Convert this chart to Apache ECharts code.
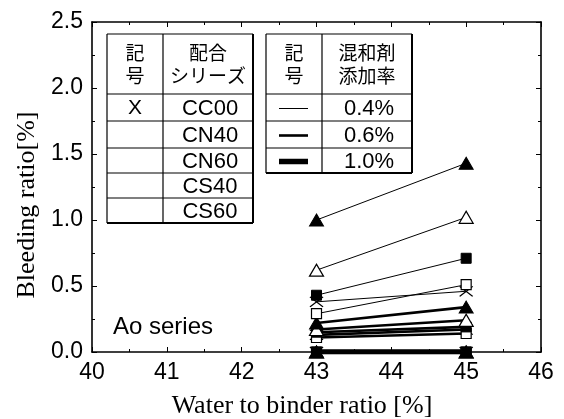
<!DOCTYPE html>
<html>
<head>
<meta charset="utf-8">
<script src="https://cdn.jsdelivr.net/npm/echarts@6/dist/echarts.min.js"></script>
<style>html,body{margin:0;padding:0;background:#fff}#c{width:564px;height:419px}</style>
</head>
<body>
<div id="c"></div>
<script>
// ---- data ----
const xValues = [43, 45];
const mixSeries = ['CC00', 'CN40', 'CN60', 'CS40', 'CS60'];
const rates = ['0.4%', '0.6%', '1.0%'];
// values at w/b 43 and 45, order: CC00, CN40, CN60, CS40, CS60
const rate04 = [[0.38, 0.46], [0.29, 0.51], [0.43, 0.71], [0.62, 1.02], [1.00, 1.43]];
const rate06 = [[0.13, 0.17], [0.11, 0.14], [0.15, 0.19], [0.17, 0.24], [0.22, 0.34]];
const rate10 = [[0.00, 0.00], [0.00, 0.00], [0.00, 0.00], [0.00, 0.00], [0.00, 0.00]];
const xTicks = [40, 41, 42, 43, 44, 45, 46];
const yTicks = ['0.0', '0.5', '1.0', '1.5', '2.0', '2.5'];

// ---- styles ----
const lineWidths = [1, 2.6, 4.5];
const markerDefs = [
  { symbol: 'path://M0,0L10,10M10,0L0,10', size: [13, 10], fill: '#000', border: 1.3 },
  { symbol: 'rect', size: 10, fill: '#fff', border: 1.2 },
  { symbol: 'rect', size: 10, fill: '#000', border: 1 },
  { symbol: 'triangle', size: [14, 12], fill: '#fff', border: 1.2 },
  { symbol: 'triangle', size: [14, 12], fill: '#000', border: 1 }
];

const allRates = [rate04, rate06, rate10];
const series = [];
for (let r = allRates.length - 1; r >= 0; r--) {
  allRates[r].forEach((vals, i) => {
    const m = markerDefs[i];
    series.push({
      name: mixSeries[i] + ' ' + rates[r],
      type: 'line',
      data: xValues.map((x, k) => [x, vals[k]]),
      symbol: m.symbol,
      symbolSize: m.size,
      showAllSymbol: true,
      lineStyle: { color: '#000', width: lineWidths[r] },
      itemStyle: { color: m.fill, borderColor: '#000', borderWidth: m.border },
      animation: false
    });
  });
}

const chart = echarts.init(document.getElementById('c'), null, { renderer: 'canvas' });

const L = 92, R = 541, T = 22, B = 352;
const sans = 'Liberation Sans, Arial, sans-serif';
const cjk = 'Noto Sans CJK JP, sans-serif';
const serif = 'Liberation Serif, Times New Roman, serif';

// legend tables (decoration)
const g = [];
function hline(x1, x2, y, w) { g.push({ type: 'line', shape: { x1, y1: y, x2, y2: y }, style: { stroke: '#000', lineWidth: w || 1 }, z: 10 }); }
function vline(x, y1, y2, w) { g.push({ type: 'line', shape: { x1: x, y1, x2: x, y2 }, style: { stroke: '#000', lineWidth: w || 1 }, z: 10 }); }
function txt(x, y, t, size, font) {
  g.push({ type: 'text', x, y, style: { text: t, fill: '#000', font: size + 'px ' + font, align: 'center', verticalAlign: 'middle', lineHeight: size + 4 }, z: 11 });
}
// table 1
const t1 = { l: 107, m: 163, r: 253, rows: [34, 94, 121, 148, 173, 198, 223] };
g.push({ type: 'rect', shape: { x: t1.l, y: t1.rows[0], width: t1.r - t1.l, height: t1.rows[6] - t1.rows[0] }, style: { fill: '#fff', stroke: null }, z: 9 });
t1.rows.forEach((y, k) => hline(t1.l, t1.r, y, (k === 6) ? 2 : 1.2));
vline(t1.l, t1.rows[0], t1.rows[6], 1.2);
vline(t1.m, t1.rows[0], t1.rows[6], 1.2);
vline(t1.r, t1.rows[0], t1.rows[6], 2);
txt((t1.l + t1.m) / 2, 64, '記\n号', 19, cjk);
txt((t1.m + t1.r) / 2, 64, '配合\nシリーズ', 19, cjk);
txt((t1.l + t1.m) / 2, 108, 'X', 21, sans);
mixSeries.forEach((s, k) => txt((t1.m + t1.r) / 2 + 2, (t1.rows[k + 1] + t1.rows[k + 2]) / 2 + 1, s, 22, sans));
// table 2
const t2 = { l: 266, m: 322, r: 412, rows: [34, 94, 121, 148, 173] };
g.push({ type: 'rect', shape: { x: t2.l, y: t2.rows[0], width: t2.r - t2.l, height: t2.rows[4] - t2.rows[0] }, style: { fill: '#fff', stroke: null }, z: 9 });
t2.rows.forEach((y, k) => hline(t2.l, t2.r, y, (k === 4) ? 2 : 1.2));
vline(t2.l, t2.rows[0], t2.rows[4], 1.2);
vline(t2.m, t2.rows[0], t2.rows[4], 1.2);
vline(t2.r, t2.rows[0], t2.rows[4], 2);
txt((t2.l + t2.m) / 2, 64, '記\n号', 19, cjk);
txt((t2.m + t2.r) / 2, 64, '混和剤\n添加率', 19, cjk);
rates.forEach((s, k) => {
  const yc = (t2.rows[k + 1] + t2.rows[k + 2]) / 2 + 1;
  hline(279, 308, yc, lineWidths[k] + (k === 2 ? 1 : 0));
  txt((t2.m + t2.r) / 2 + 2, yc, s, 22, sans);
});
// annotation
g.push({ type: 'text', x: 113, y: 327, style: { text: 'Ao series', fill: '#000', font: '24px ' + sans, verticalAlign: 'middle' }, z: 11 });
// axis names
g.push({ type: 'text', x: 302, y: 406, style: { text: 'Water to binder ratio [%]', fill: '#000', font: '26px ' + serif, align: 'center', verticalAlign: 'middle' }, z: 11 });
g.push({ type: 'text', x: 27, y: 205, rotation: Math.PI / 2, style: { text: 'Bleeding ratio[%]', fill: '#000', font: '26px ' + serif, align: 'center', verticalAlign: 'middle' }, z: 11 });

const axisCommon = {
  axisLine: { show: true, onZero: false, lineStyle: { color: '#000', width: 1.6 } },
  axisTick: { show: true, inside: true, length: 5, lineStyle: { color: '#000', width: 1 } },
  minorTick: { show: true, splitNumber: 2, length: 3, lineStyle: { color: '#000', width: 1 } },
  splitLine: { show: false }
};

chart.setOption({
  animation: false,
  backgroundColor: '#fff',
  grid: { left: L, right: 564 - R, top: T, bottom: 419 - B, containLabel: false },
  xAxis: [
    Object.assign({}, axisCommon, {
      type: 'value', min: 40, max: 46, interval: 1, position: 'bottom',
      axisLabel: { color: '#000', fontSize: 23, fontFamily: sans, margin: 9, formatter: v => String(xTicks[Math.round(v - 40)] ?? v) }
    }),
    Object.assign({}, axisCommon, {
      type: 'value', min: 40, max: 46, interval: 1, position: 'top', axisLabel: { show: false }
    })
  ],
  yAxis: [
    Object.assign({}, axisCommon, {
      type: 'value', min: 0, max: 2.5, interval: 0.5, position: 'left',
      axisLabel: { color: '#000', fontSize: 23, fontFamily: sans, margin: 9, formatter: v => yTicks[Math.round(v / 0.5)] }
    }),
    Object.assign({}, axisCommon, {
      type: 'value', min: 0, max: 2.5, interval: 0.5, position: 'right', axisLabel: { show: false }
    })
  ],
  series: series,
  graphic: g
});
</script>
</body>
</html>
